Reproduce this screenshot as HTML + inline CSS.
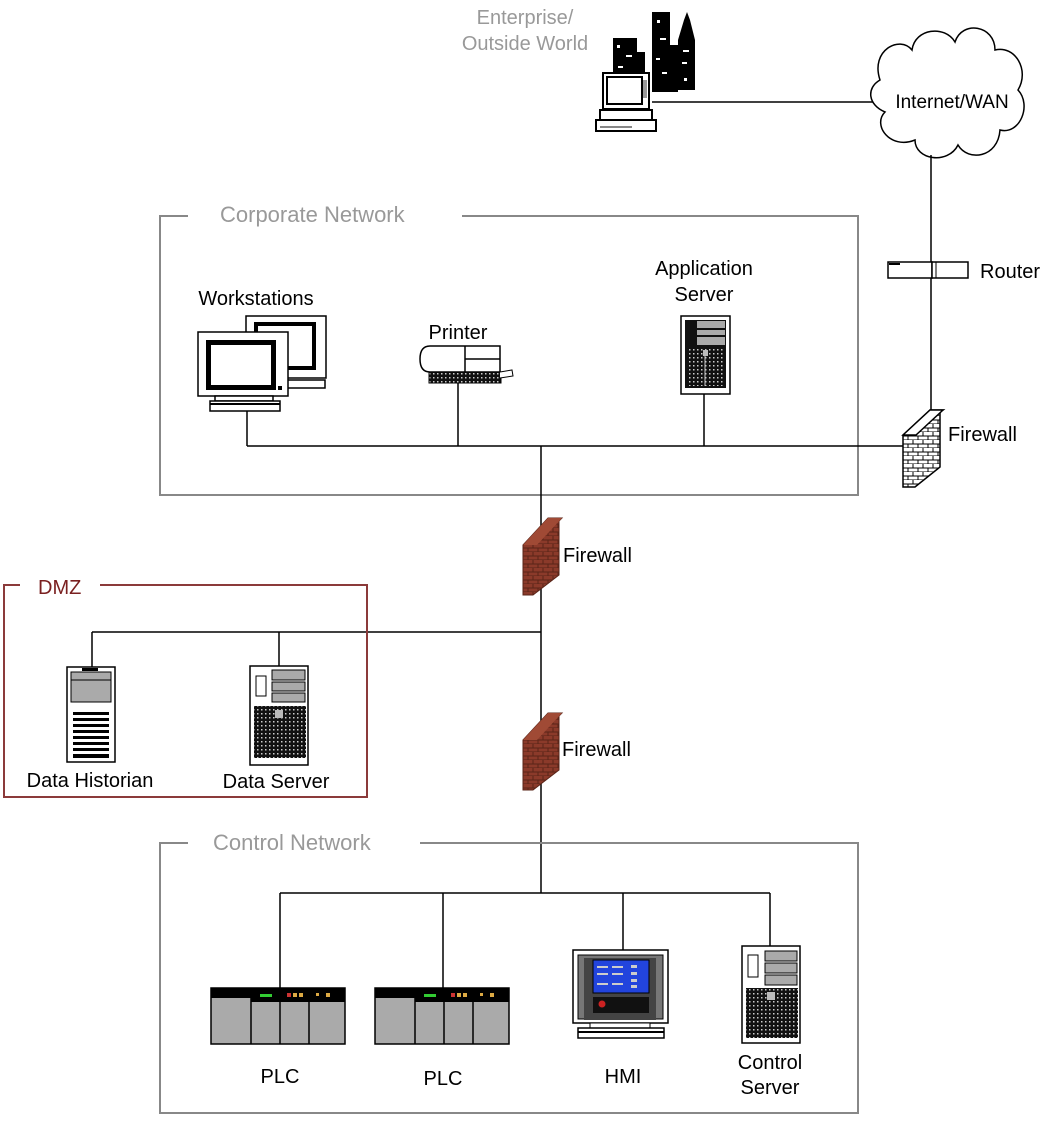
<!DOCTYPE html>
<html><head><meta charset="utf-8"><style>
html,body{margin:0;padding:0;background:#fff;}
svg{display:block;}
text{font-family:"Liberation Sans",sans-serif;font-size:20px;}
</style></head><body>
<svg width="1046" height="1135" viewBox="0 0 1046 1135" xmlns="http://www.w3.org/2000/svg">
<defs>
<pattern id="brick" width="10" height="8" patternUnits="userSpaceOnUse">
<rect width="10" height="8" fill="#8b3a2a"/>
<path d="M0 4H10M0 8H10M3 0V4M8 4V8" stroke="#5a2418" stroke-width="1"/>
</pattern>
<pattern id="wbrick" width="10" height="8" patternUnits="userSpaceOnUse">
<rect width="10" height="8" fill="#fff"/>
<path d="M0 4H10M0 8H10M3 0V4M8 4V8" stroke="#000" stroke-width="1"/>
</pattern>
<pattern id="dots" width="4" height="4" patternUnits="userSpaceOnUse">
<rect width="4" height="4" fill="#111"/><rect x="1" y="1" width="1.5" height="1.5" fill="#ccc"/>
</pattern>
</defs>

<!-- Enterprise -->
<text x="525" y="24" text-anchor="middle" fill="#999">Enterprise/</text>
<text x="525" y="50" text-anchor="middle" fill="#999">Outside World</text>
<!-- city -->
<g fill="#000">
<rect x="613" y="38" width="24" height="55"/>
<rect x="637" y="52" width="8" height="40"/>
<rect x="652" y="12" width="18" height="80"/>
<rect x="670" y="45" width="8" height="47"/>
<polygon points="678,90 678,40 684,20 687,12 690,20 695,40 695,90"/>
</g>
<g fill="#fff">
<rect x="617" y="45" width="3" height="3"/><rect x="626" y="55" width="6" height="2"/><rect x="618" y="66" width="5" height="2"/>
<rect x="657" y="20" width="3" height="3"/><rect x="660" y="38" width="6" height="2"/><rect x="656" y="58" width="4" height="2"/><rect x="662" y="72" width="5" height="2"/>
<rect x="683" y="50" width="6" height="2"/><rect x="682" y="62" width="5" height="2"/><rect x="684" y="78" width="3" height="3"/>
</g>
<!-- laptop -->
<rect x="603" y="73" width="46" height="36" fill="#fff" stroke="#000" stroke-width="2"/>
<rect x="607" y="77" width="35" height="27" fill="#fff" stroke="#000" stroke-width="2"/>
<rect x="643" y="80" width="4" height="18" fill="#999"/>
<rect x="600" y="110" width="52" height="10" fill="#fff" stroke="#000" stroke-width="2"/>
<rect x="596" y="120" width="60" height="11" fill="#fff" stroke="#000" stroke-width="2"/>
<line x1="600" y1="127" x2="632" y2="127" stroke="#888" stroke-width="2"/>
<line x1="652" y1="102" x2="873" y2="102" stroke="#000" stroke-width="1.5"/>

<!-- cloud -->
<path d="M880 80 C870 50 900 35 912 50 C915 28 945 25 955 42 C962 20 995 25 995 50 C1015 45 1030 70 1018 90 C1032 105 1020 135 1000 130 C998 158 968 162 958 145 C948 165 915 160 915 140 C890 150 872 125 885 112 C868 105 866 88 880 80 Z" fill="#fff" stroke="#000" stroke-width="1.5"/>
<text x="952" y="108" text-anchor="middle" style="font-size:19px">Internet/WAN</text>

<!-- right vertical -->
<line x1="931" y1="155" x2="931" y2="410" stroke="#000" stroke-width="1.5"/>
<!-- router -->
<rect x="888" y="262" width="44" height="16" fill="#fff" stroke="#000" stroke-width="1.5"/>
<rect x="932" y="262" width="36" height="16" fill="#fff" stroke="#000" stroke-width="1.5"/>
<line x1="936" y1="262" x2="936" y2="278" stroke="#000"/>
<line x1="889" y1="264" x2="900" y2="264" stroke="#000" stroke-width="2"/>
<text x="980" y="278">Router</text>
<!-- right firewall -->
<polygon points="903,435 930,410 943,410 940,412 940,467 915,487 903,487" fill="url(#wbrick)" stroke="#000" stroke-width="1.5"/>
<polygon points="903,435 930,410 943,410 916,435" fill="#fff" stroke="#000" stroke-width="1.5"/>
<text x="948" y="441">Firewall</text>

<!-- Corporate box -->
<path d="M188 216 H160 V495 H858 V216 H462" fill="none" stroke="#888" stroke-width="2"/>
<text x="220" y="222" fill="#999" style="font-size:22px">Corporate Network</text>

<text x="256" y="305" text-anchor="middle">Workstations</text>
<!-- back monitor -->
<rect x="246" y="316" width="80" height="62" fill="#fff" stroke="#000" stroke-width="1.5"/>
<rect x="254" y="322" width="62" height="48" fill="#000"/>
<rect x="258" y="326" width="54" height="40" fill="#fff"/>
<rect x="255" y="380" width="70" height="8" fill="#fff" stroke="#000" stroke-width="1.5"/>
<!-- front monitor -->
<rect x="198" y="332" width="90" height="64" fill="#fff" stroke="#000" stroke-width="1.5"/>
<rect x="206" y="340" width="70" height="50" fill="#000"/>
<rect x="211" y="345" width="60" height="40" fill="#fff"/>
<rect x="278" y="386" width="4" height="4" fill="#000"/>
<rect x="215" y="396" width="58" height="5" fill="#fff" stroke="#000" stroke-width="1.5"/>
<rect x="210" y="401" width="70" height="10" fill="#fff" stroke="#000" stroke-width="1.5"/>
<line x1="210" y1="404" x2="280" y2="404" stroke="#000" stroke-width="2"/>

<text x="458" y="339" text-anchor="middle">Printer</text>
<path d="M430 346 H500 V372 H430 Q420 372 420 359 Q420 346 430 346 Z" fill="#fff" stroke="#000" stroke-width="1.5"/>
<line x1="465" y1="346" x2="465" y2="372" stroke="#000" stroke-width="1.5"/>
<line x1="465" y1="359" x2="500" y2="359" stroke="#000" stroke-width="1.5"/>
<rect x="429" y="372" width="72" height="11" fill="url(#dots)" stroke="#000"/>
<path d="M500 372 L512 370 L513 376 L500 378" fill="#fff" stroke="#000"/>

<text x="704" y="275" text-anchor="middle">Application</text>
<text x="704" y="301" text-anchor="middle">Server</text>
<rect x="681" y="316" width="49" height="78" fill="#fff" stroke="#000" stroke-width="1.5"/>
<rect x="685" y="320" width="41" height="68" fill="#111"/>
<rect x="697" y="321" width="28" height="7" fill="#aaa"/><rect x="697" y="330" width="28" height="5" fill="#aaa"/><rect x="697" y="337" width="28" height="8" fill="#aaa"/>
<rect x="688" y="348" width="36" height="38" fill="url(#dots)"/>
<rect x="703" y="350" width="5" height="6" fill="#bbb"/>
<line x1="705" y1="356" x2="705" y2="386" stroke="#ccc"/>

<!-- corporate bus -->
<g stroke="#000" stroke-width="1.5" fill="none">
<line x1="247" y1="411" x2="247" y2="446"/>
<line x1="458" y1="383" x2="458" y2="446"/>
<line x1="704" y1="394" x2="704" y2="446"/>
<line x1="247" y1="446" x2="903" y2="446"/>
<line x1="541" y1="446" x2="541" y2="893"/>
<line x1="92" y1="632" x2="541" y2="632"/>
<line x1="92" y1="632" x2="92" y2="667"/>
<line x1="279" y1="632" x2="279" y2="666"/>
<line x1="280" y1="893" x2="770" y2="893"/>
<line x1="280" y1="893" x2="280" y2="988"/>
<line x1="443" y1="893" x2="443" y2="988"/>
<line x1="623" y1="893" x2="623" y2="950"/>
<line x1="770" y1="893" x2="770" y2="946"/>
</g>

<!-- brown firewalls -->
<g>
<polygon points="523,545 548,518 562,518 559,521 559,575 533,595 523,595" fill="url(#brick)" stroke="#5a2418"/>
<polygon points="523,545 548,518 562,518 537,545" fill="#a04a35"/>
<text x="563" y="562">Firewall</text>
<polygon points="523,740 548,713 562,713 559,716 559,770 533,790 523,790" fill="url(#brick)" stroke="#5a2418"/>
<polygon points="523,740 548,713 562,713 537,740" fill="#a04a35"/>
<text x="562" y="756">Firewall</text>
</g>

<!-- DMZ -->
<path d="M20 585 H4 V797 H367 V585 H100" fill="none" stroke="#8b3a3a" stroke-width="2"/>
<text x="38" y="594" fill="#7a2020">DMZ</text>
<!-- historian -->
<rect x="67" y="667" width="48" height="95" fill="#fff" stroke="#000" stroke-width="1.5"/>
<rect x="71" y="672" width="40" height="30" fill="#aaa" stroke="#000"/>
<line x1="71" y1="680" x2="111" y2="680" stroke="#000"/>
<rect x="82" y="668" width="16" height="3" fill="#000"/>
<g fill="#000"><rect x="73" y="712" width="36" height="3"/><rect x="73" y="718" width="36" height="3"/><rect x="73" y="724" width="36" height="3"/><rect x="73" y="730" width="36" height="3"/><rect x="73" y="736" width="36" height="3"/><rect x="73" y="742" width="36" height="3"/><rect x="73" y="748" width="36" height="3"/><rect x="73" y="754" width="36" height="4"/></g>
<text x="90" y="787" text-anchor="middle">Data Historian</text>
<!-- data server -->
<rect x="250" y="666" width="58" height="99" fill="#fff" stroke="#000" stroke-width="1.5"/>
<rect x="272" y="670" width="33" height="10" fill="#aaa" stroke="#000"/><rect x="272" y="682" width="33" height="9" fill="#aaa" stroke="#000"/><rect x="272" y="693" width="33" height="9" fill="#aaa" stroke="#000"/>
<rect x="256" y="676" width="10" height="20" fill="#fff" stroke="#000"/>
<rect x="254" y="706" width="52" height="52" fill="url(#dots)"/>
<rect x="275" y="710" width="8" height="8" fill="#bbb"/>
<text x="276" y="788" text-anchor="middle">Data Server</text>

<!-- Control box -->
<path d="M188 843 H160 V1113 H858 V843 H420" fill="none" stroke="#888" stroke-width="2"/>
<text x="213" y="850" fill="#999" style="font-size:22px">Control Network</text>

<!-- PLCs -->
<g id="plc">
<rect x="211" y="988" width="134" height="56" fill="#aaa" stroke="#000" stroke-width="1.5"/>
<rect x="211" y="988" width="40" height="10" fill="#000"/>
<rect x="251" y="988" width="94" height="14" fill="#000"/>
<line x1="251" y1="988" x2="251" y2="1044" stroke="#000" stroke-width="1.5"/>
<line x1="280" y1="1002" x2="280" y2="1044" stroke="#000" stroke-width="1.5"/>
<line x1="309" y1="988" x2="309" y2="1044" stroke="#000" stroke-width="1.5"/>
<rect x="260" y="994" width="12" height="3" fill="#3c3"/>
<rect x="287" y="993" width="4" height="4" fill="#c33"/><rect x="293" y="993" width="4" height="4" fill="#da4"/><rect x="299" y="993" width="4" height="4" fill="#da4"/>
<rect x="316" y="993" width="3" height="3" fill="#da4"/><rect x="326" y="993" width="4" height="4" fill="#da4"/>
</g>
<use href="#plc" x="164"/>
<text x="280" y="1083" text-anchor="middle">PLC</text>
<text x="443" y="1085" text-anchor="middle">PLC</text>

<!-- HMI -->
<rect x="573" y="950" width="95" height="73" fill="#fff" stroke="#000" stroke-width="1.5"/>
<rect x="578" y="955" width="85" height="64" fill="#777" stroke="#000"/>
<rect x="584" y="958" width="72" height="62" fill="#444"/>
<rect x="593" y="960" width="56" height="33" fill="#2244dd" stroke="#000"/>
<g fill="#ccc"><rect x="597" y="966" width="11" height="2"/><rect x="612" y="966" width="11" height="2"/><rect x="597" y="973" width="11" height="2"/><rect x="612" y="973" width="11" height="2"/><rect x="597" y="983" width="11" height="2"/><rect x="612" y="983" width="11" height="2"/><rect x="631" y="965" width="6" height="3"/><rect x="631" y="972" width="6" height="3"/><rect x="631" y="979" width="6" height="3"/><rect x="631" y="985" width="6" height="3"/></g>
<rect x="593" y="997" width="56" height="16" fill="#111"/>
<circle cx="602" cy="1004" r="3.5" fill="#c22"/>
<rect x="590" y="1023" width="60" height="5" fill="#fff" stroke="#000"/>
<rect x="578" y="1028" width="86" height="10" fill="#fff" stroke="#000" stroke-width="1.5"/>
<line x1="578" y1="1032" x2="664" y2="1032" stroke="#000" stroke-width="2"/>
<text x="623" y="1083" text-anchor="middle">HMI</text>

<!-- control server -->
<rect x="742" y="946" width="58" height="97" fill="#fff" stroke="#000" stroke-width="1.5"/>
<rect x="765" y="951" width="32" height="10" fill="#aaa" stroke="#000"/><rect x="765" y="963" width="32" height="10" fill="#aaa" stroke="#000"/><rect x="765" y="975" width="32" height="10" fill="#aaa" stroke="#000"/>
<rect x="748" y="955" width="10" height="22" fill="#fff" stroke="#000"/>
<rect x="746" y="988" width="52" height="50" fill="url(#dots)"/>
<rect x="767" y="992" width="8" height="8" fill="#bbb"/>
<text x="770" y="1069" text-anchor="middle">Control</text>
<text x="770" y="1094" text-anchor="middle">Server</text>
</svg>
</body></html>
